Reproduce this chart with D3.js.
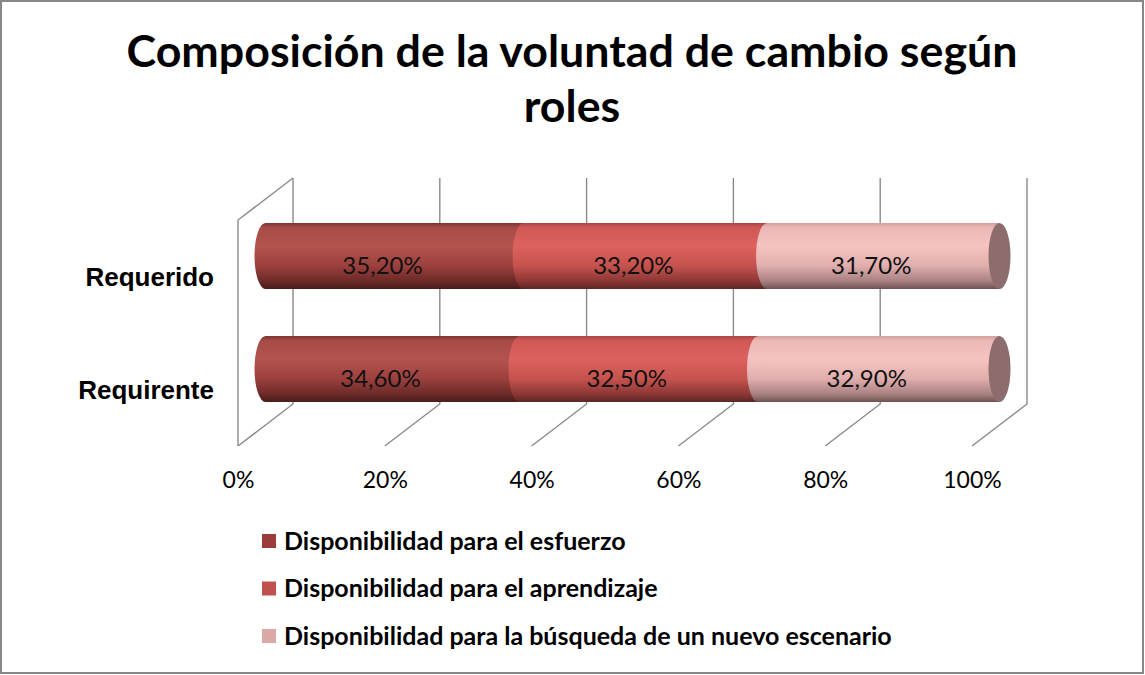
<!DOCTYPE html>
<html>
<head>
<meta charset="utf-8">
<script src="https://cdn.jsdelivr.net/npm/d3@7"></script>
<style>
  body { margin: 0; background: #fff; }
  svg { display: block; }
</style>
</head>
<body>
<svg id="chart" width="1145" height="675"></svg>
<script>
// chart data
const categories = ["Requerido", "Requirente"];
const seriesKeys = ["esfuerzo", "aprendizaje", "escenario"];
const seriesNames = [
  "Disponibilidad para el esfuerzo",
  "Disponibilidad para el aprendizaje",
  "Disponibilidad para la búsqueda de un nuevo escenario"
];
const esfuerzo = [35.2, 34.6];
const aprendizaje = [33.2, 32.5];
const escenario = [31.7, 32.9];
const tickValues = [0, 0.2, 0.4, 0.6, 0.8, 1];
const titleLines = ["Composición de la voluntad de cambio según", "roles"];

const table = categories.map((c, i) => ({
  cat: c, esfuerzo: esfuerzo[i], aprendizaje: aprendizaje[i], escenario: escenario[i]
}));

const svg = d3.select("#chart");
const W = 1145, H = 675;

// outer frame
svg.append("rect")
   .attr("x", 1).attr("y", 1).attr("width", W - 3).attr("height", H - 3)
   .attr("fill", "#fff").attr("stroke", "#878787").attr("stroke-width", 2);

// title, fitted to the width of the original
const title = svg.append("text")
   .attr("text-anchor", "middle")
   .style("font-family", "Lato, 'Open Sans', sans-serif")
   .style("font-weight", "bold")
   .style("font-size", "44px")
   .attr("fill", "#000");
title.selectAll("tspan").data(titleLines).enter().append("tspan")
   .attr("x", 572)
   .attr("y", (d, i) => 67 + i * 55)
   .text(d => d);
const tw = title.select("tspan").node().getComputedTextLength();
title.style("font-size", (44 * 891 / tw) + "px");

// scales (mid-depth of the 3D box)
const dx = 27.5, dy = 21;
const x = d3.scaleLinear().domain([0, 1]).range([265.5, 999.5]);
const y = d3.scalePoint().domain(categories).range([256, 369]);
const wallTop = 178, floorMid = 425;

// walls + gridlines
const grid = svg.append("g")
   .attr("fill", "none").attr("stroke", "#8a8a8a").attr("stroke-width", 1.4);
grid.selectAll("path.gl").data(tickValues).enter().append("path")
   .attr("class", "gl")
   .attr("d", t => "M" + (x(t) + dx) + "," + wallTop +
                   "L" + (x(t) + dx) + "," + (floorMid - dy) +
                   "L" + (x(t) - dx) + "," + (floorMid + dy));
grid.append("path")
   .attr("d", "M" + (x(0) + dx) + "," + wallTop +
              "L" + (x(0) - dx) + "," + (wallTop + 2 * dy) +
              "L" + (x(0) - dx) + "," + (floorMid + dy));

// x axis on the front edge
const axis = svg.append("g")
   .attr("transform", "translate(" + (-dx) + ",480)")
   .call(d3.axisBottom(x).tickValues(tickValues).tickSize(0).tickFormat(d3.format(".0%")));
axis.select(".domain").remove();
axis.selectAll("text")
   .attr("y", 0).attr("dy", "0.35em")
   .style("font-family", "Lato, 'Open Sans', sans-serif")
   .style("font-size", "23px")
   .attr("fill", "#000");

// category labels
svg.append("g").selectAll("text").data(categories).enter().append("text")
   .attr("x", 214)
   .attr("y", d => y(d) + dy)
   .attr("dy", "0.35em")
   .attr("text-anchor", "end")
   .style("font-family", "'Liberation Sans', Arial, sans-serif")
   .style("font-weight", "bold")
   .style("font-size", "26px")
   .text(d => d);

// gradients for the cylinders
const grads = [
  [["0", "#7e3331"], ["0.07", "#a54b48"], ["0.35", "#b4544f"], ["0.65", "#9b403d"], ["0.88", "#6c2a28"], ["1", "#4a1c1b"]],
  [["0", "#a94643"], ["0.07", "#cf5955"], ["0.35", "#dc625e"], ["0.65", "#c5524e"], ["0.88", "#8c3735"], ["1", "#5c2624"]],
  [["0", "#cfa09f"], ["0.07", "#ecb8b7"], ["0.35", "#f4c3c2"], ["0.65", "#dfaead"], ["0.88", "#a98181"], ["1", "#6e5252"]]
];
const defs = svg.append("defs");
grads.forEach((stops, i) => {
  const g = defs.append("linearGradient").attr("id", "g" + i)
     .attr("x1", 0).attr("y1", 0).attr("x2", 0).attr("y2", 1);
  stops.forEach(s => g.append("stop").attr("offset", s[0]).attr("stop-color", s[1]));
});
const legendColors = ["#9b3c3a", "#c0504d", "#dba8a8"];

const stacked = d3.stack().keys(seriesKeys).offset(d3.stackOffsetExpand)(table);
const r = 33, rx = 11;

const bars = svg.append("g");
stacked.forEach((layer, si) => {
  bars.append("g").selectAll("path").data(layer).enter().append("path")
     .attr("fill", "url(#g" + si + ")")
     .attr("d", d => {
       const x0 = x(d[0]), x1 = x(d[1]), cy = y(d.data.cat);
       return "M" + x0 + "," + (cy - r) + "L" + x1 + "," + (cy - r) +
              "L" + x1 + "," + (cy + r) + "L" + x0 + "," + (cy + r) +
              "A" + rx + "," + r + " 0 0 1 " + x0 + "," + (cy - r) + "Z";
     });
});
// end caps
bars.append("g").selectAll("ellipse").data(categories).enter().append("ellipse")
   .attr("cx", x(1)).attr("cy", d => y(d))
   .attr("rx", rx).attr("ry", r)
   .attr("fill", "#8d6c6c");

// data labels
const labels = svg.append("g")
   .style("font-family", "Lato, 'Open Sans', sans-serif")
   .style("font-size", "24px")
   .attr("fill", "#111");
stacked.forEach(layer => {
  labels.append("g").selectAll("text").data(layer).enter().append("text")
     .attr("x", d => (x(d[0]) + x(d[1])) / 2 - 12)
     .attr("y", d => y(d.data.cat) + 10)
     .attr("dy", "0.35em")
     .attr("text-anchor", "middle")
     .text(d => d3.format(".2f")(d.data[layer.key]).replace(".", ",") + "%");
});

// legend
const legend = svg.append("g").selectAll("g").data(seriesNames).enter().append("g")
   .attr("transform", (d, i) => "translate(262," + (541 + i * 47.5) + ")");
legend.append("rect")
   .attr("x", 0).attr("y", -7).attr("width", 14).attr("height", 14)
   .attr("fill", (d, i) => legendColors[i]);
legend.append("text")
   .attr("x", 22).attr("dy", "0.35em")
   .style("font-family", "Lato, 'Open Sans', sans-serif")
   .style("font-weight", "bold")
   .style("font-size", "25px")
   .text(d => d);
</script>
</body>
</html>
